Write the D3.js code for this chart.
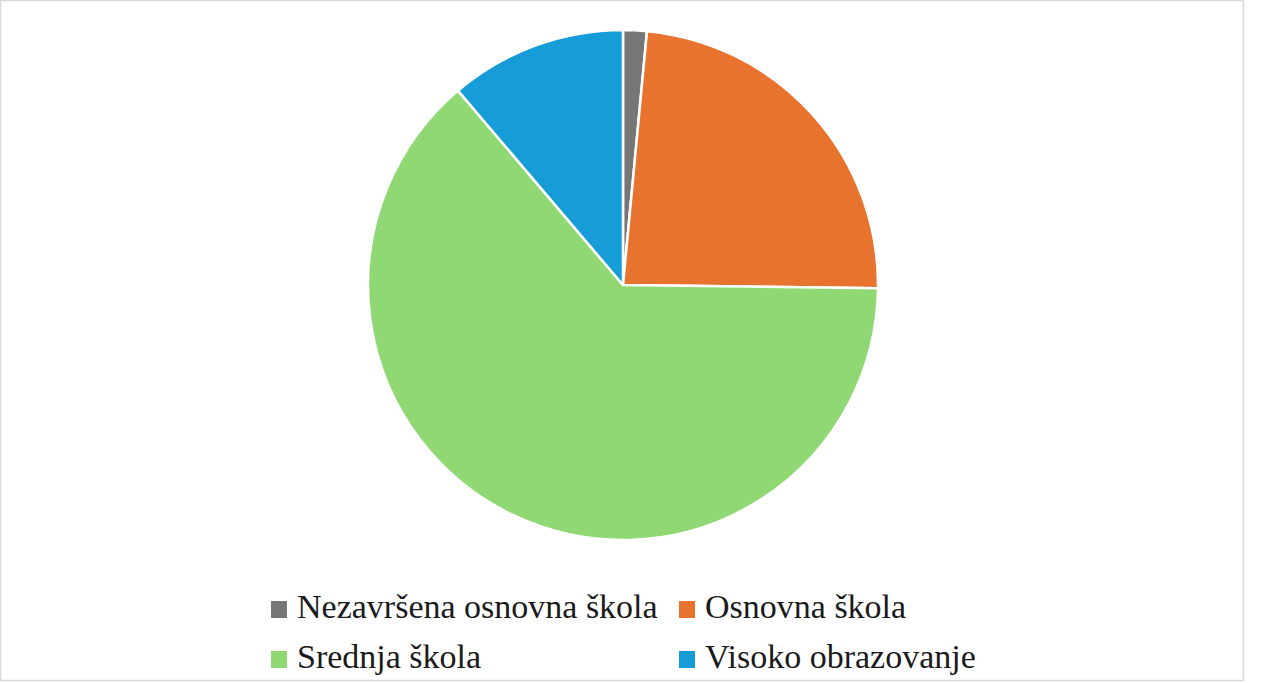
<!DOCTYPE html>
<html><head><meta charset="utf-8">
<script src="https://cdn.jsdelivr.net/npm/d3@7"></script>
<style>html,body{margin:0;padding:0;background:#fff;}svg{display:block;}
.leg{font-family:"Liberation Serif","Times New Roman",Tinos,"DejaVu Serif",serif;}</style>
</head><body>
<svg id="c" width="1265" height="683"></svg>
<script>
const categories = ["Nezavršena osnovna škola", "Osnovna škola", "Srednja škola", "Visoko obrazovanje"];
const values = [1.5, 23.7, 63.6, 11.2];
const colors = ["#767676", "#E8732F", "#8FD873", "#169DD8"];

const svg = d3.select("#c");
svg.append("rect").attr("x",0.5).attr("y",0.5).attr("width",1243).attr("height",680)
  .attr("fill","#fff").attr("stroke","#d9d9d9").attr("stroke-width",1.5);

const cx = 623, cy = 285, r = 255;
const data = categories.map((c,i)=>({name:c, value:values[i], color:colors[i]}));
const pie = d3.pie().value(d=>d.value).sort(null);
const arc = d3.arc().innerRadius(0).outerRadius(r);
const color = d3.scaleOrdinal().domain(categories).range(colors);

svg.append("g").attr("transform",`translate(${cx},${cy})`)
  .selectAll("path").data(pie(data)).join("path")
  .attr("d",arc).attr("fill",d=>color(d.data.name))
  .attr("stroke","#fff").attr("stroke-width",2.5).attr("stroke-linejoin","round");

const legX = [270, 678], legY = [609, 659];
const lg = svg.append("g");
data.forEach((d,i)=>{
  const x = legX[i%2], y = legY[Math.floor(i/2)];
  lg.append("rect").attr("x",x+1).attr("y",y-8).attr("width",16).attr("height",17).attr("fill",color(d.name));
  lg.append("text").attr("class","leg").attr("x",x+27).attr("y",y+9)
    .attr("font-size",34).attr("fill","#1a1a1a").text(d.name);
});
</script>
</body></html>
